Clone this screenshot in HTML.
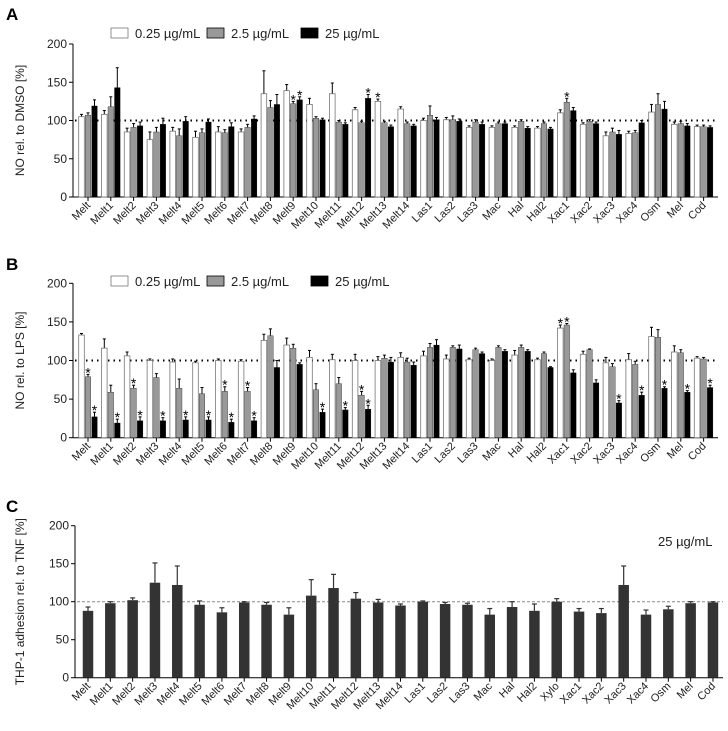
<!DOCTYPE html>
<html><head><meta charset="utf-8"><style>
body{margin:0;background:#fff}
svg{display:block;font-family:"Liberation Sans",Arial,sans-serif}
</style></head><body>
<svg id="c" width="728" height="731" viewBox="0 0 728 731" xmlns="http://www.w3.org/2000/svg"></svg>
<script>
const catsAB=["Melt","Melt1","Melt2","Melt3","Melt4","Melt5","Melt6","Melt7","Melt8","Melt9","Melt10","Melt11","Melt12","Melt13","Melt14","Las1","Las2","Las3","Mac","Hal","Hal2","Xac1","Xac2","Xac3","Xac4","Osm","Mel","Cod"];
const catsC=["Melt","Melt1","Melt2","Melt3","Melt4","Melt5","Melt6","Melt7","Melt8","Melt9","Melt10","Melt11","Melt12","Melt13","Melt14","Las1","Las2","Las3","Mac","Hal","Hal2","Xylo","Xac1","Xac2","Xac3","Xac4","Osm","Mel","Cod"];
const yTicks=[0,50,100,150,200];
const legendLabels=["0.25 µg/mL","2.5 µg/mL","25 µg/mL"];
// Panel A
const aLow=[105,108,85,75,86,78,85,85,135,139,121,135,114,125,115,100,101,91,91,91,90,110,95,80,83,111,95,92];
const aMid=[107,118,91,85,80,84,84,91,117,122,103,98,97,97,96,107,101,98,96,99,96,124,99,85,84,121,96,92];
const aHigh=[119,143,93,95,99,98,92,102,121,127,101,95,129,92,93,101,99,95,96,90,89,113,96,82,97,115,93,91];
const aLowErr=[3,5,5,10,5,8,7,4,30,8,8,14,3,3,3,3,3,2,2,2,2,4,2,5,3,10,3,2];
const aMidErr=[3,13,5,6,9,5,4,4,9,3,2,2,2,2,2,12,5,3,2,2,2,5,2,5,3,14,3,2];
const aHighErr=[8,26,5,8,6,4,5,4,13,4,2,2,5,2,2,3,3,3,2,2,2,4,2,5,3,10,3,2];
const aLowSig=[0,0,0,0,0,0,0,0,0,0,0,0,0,1,0,0,0,0,0,0,0,0,0,0,0,0,0,0];
const aMidSig=[0,0,0,0,0,0,0,0,0,1,0,0,0,0,0,0,0,0,0,0,0,1,0,0,0,0,0,0];
const aHighSig=[0,0,0,0,0,0,0,0,0,1,0,0,1,0,0,0,0,0,0,0,0,0,0,0,0,0,0,0];
// Panel B
const bLow=[133,116,106,100,98,97,100,99,126,120,104,101,100,100,104,106,102,101,100,107,101,142,108,97,101,131,111,103];
const bMid=[79,59,64,78,64,57,60,60,132,116,62,70,55,103,98,117,117,114,117,117,109,146,114,92,95,130,110,102];
const bHigh=[27,19,22,22,23,23,20,22,91,95,33,36,37,98,94,120,115,109,112,112,91,84,71,45,55,64,59,65];
const bLowErr=[2,12,5,2,4,2,2,2,8,9,9,7,8,5,6,6,5,2,2,6,2,4,4,7,8,12,8,2];
const bMidErr=[3,9,4,5,12,8,6,5,9,5,8,8,5,4,5,5,2,2,2,3,2,2,1,4,4,10,4,2];
const bHighErr=[6,5,5,4,4,4,4,4,9,2,4,3,5,6,4,7,5,2,2,2,1,4,4,3,4,2,2,3];
const bLowSig=[0,0,0,0,0,0,0,0,0,0,0,0,0,0,0,0,0,0,0,0,0,1,0,0,0,0,0,0];
const bMidSig=[1,0,1,0,0,0,1,1,0,0,0,0,1,0,0,0,0,0,0,0,0,1,0,0,0,0,0,0];
const bHighSig=[1,1,1,1,1,1,1,1,0,0,1,1,1,0,0,0,0,0,0,0,0,0,0,1,1,1,1,1];
// Panel C
const cVals=[88,98,102,125,122,96,86,99,96,83,108,118,104,99,95,100,97,96,83,93,88,100,87,85,122,83,90,98,99];
const cErr=[5,2,3,26,25,5,6,1,3,9,21,18,8,4,2,1,2,2,8,7,9,4,4,6,25,6,4,2,1];

const svg=document.getElementById('c');
const NS="http://www.w3.org/2000/svg";
function mk(tag,attrs,parent){const e=document.createElementNS(NS,tag);for(const k in attrs)e.setAttribute(k,attrs[k]);(parent||svg).appendChild(e);return e;}

function drawAxes(g,P,cats,title){
  const yS=v=>P.y0-(v/200)*(P.y0-P.y200);
  const xS=i=>P.x0+i*P.step;
  const yAxis=mk('g',{},g);
  
  
  mk('line',{x1:P.ax,y1:P.y200,x2:P.ax,y2:P.y0,stroke:'#000','stroke-width':1},yAxis);
  yTicks.forEach(t=>{
    mk('line',{x1:P.ax-4,y1:yS(t),x2:P.ax,y2:yS(t),stroke:'#000'},yAxis);
    const tx=mk('text',{x:P.ax-6,y:yS(t)+4,'text-anchor':'end','font-size':12,fill:'#222'},yAxis);
    tx.textContent=t;
    
    
  });
  const xAxis=mk('g',{},g);
  
  
  mk('line',{x1:P.ax,y1:P.y0,x2:P.xend,y2:P.y0,stroke:'#000'},xAxis);
  cats.forEach((c,i)=>{
    mk('line',{x1:xS(i),y1:P.y0,x2:xS(i),y2:P.y0+4,stroke:'#000'},xAxis);
    const tx=mk('text',{x:xS(i)+3,y:P.y0+9,'text-anchor':'end','font-size':11,fill:'#222',transform:`rotate(-45 ${xS(i)+3} ${P.y0+9})`},xAxis);
    tx.textContent=c;
    
    
  });
  const yc=(P.y0+P.y200)/2;
  const yt=mk('text',{x:P.tx,y:yc,'text-anchor':'middle','font-size':12,fill:'#222',transform:`rotate(-90 ${P.tx} ${yc})`},g);
  yt.textContent=title;
  
  
  return {xS,yS};
}

function refLine(g,P,yS,dash,color){
  const l=mk('line',{x1:P.ax+2,y1:yS(100),x2:P.xend,y2:yS(100),stroke:color,'stroke-width':dash?1:2,'stroke-dasharray':dash||'1.5 4'},g);
  
  
}

function groupedPanel(P,series,errs,sigs,title,name){
  const g=mk('g',{});
  
  
  const {xS,yS}=drawAxes(g,P,catsAB,title);
  refLine(g,P,yS,null,'#000');
  const fills=['#fff','#999','#000'];
  const bw=5.6, gap=0.9;
  series.forEach((vals,s)=>{
    vals.forEach((v,i)=>{
      const x=xS(i)+(s-1)*(bw+gap)-bw/2;
      const top=yS(v), et=yS(v+errs[s][i]);
      mk('line',{x1:x+bw/2,y1:top,x2:x+bw/2,y2:et,stroke:'#000','stroke-width':1},g);
      mk('line',{x1:x+bw/2-1.5,y1:et,x2:x+bw/2+1.5,y2:et,stroke:'#000','stroke-width':1},g);
      const r=mk('rect',{x:x,y:top,width:bw,height:P.y0-top,fill:fills[s],stroke:s==0?'#777':'#000','stroke-width':s==0?0.8:0.3},g);
      
      
      if(sigs[s][i]){
        const t=mk('text',{x:x+bw/2,y:et+3,'text-anchor':'middle','font-size':14,fill:'#000'},g);
        t.textContent='*';
        
        
      }
    });
  });
  const lg=mk('g',{},g);
  
  
  P.leg.forEach((lx,s)=>{
    const e=mk('g',{},lg);
    
    
    mk('rect',{x:lx,y:P.ly-6,width:17,height:10,fill:fills[s],stroke:s==0?'#777':'#000','stroke-width':0.8},e);
    const t=mk('text',{x:lx+24,y:P.ly+4,'font-size':13,fill:'#222'},e);
    t.textContent=legendLabels[s];
  });
}

groupedPanel({ax:73,x0:88,step:22.8,xend:718,y0:197,y200:44,tx:24,leg:[111,207,301],ly:34},
  [aLow,aMid,aHigh],[aLowErr,aMidErr,aHighErr],[aLowSig,aMidSig,aHighSig],'NO rel. to DMSO [%]','panel-a');
groupedPanel({ax:73,x0:88,step:22.8,xend:718,y0:437.7,y200:283.3,tx:24,leg:[111,207,311],ly:282},
  [bLow,bMid,bHigh],[bLowErr,bMidErr,bHighErr],[bLowSig,bMidSig,bHighSig],'NO rel. to LPS [%]','panel-b');

(function(){
  const P={ax:75,x0:88,step:22.32,xend:723,y0:677.7,y200:525.7,tx:24};
  const g=mk('g',{});
  
  
  const {xS,yS}=drawAxes(g,P,catsC,'THP-1 adhesion rel. to TNF [%]');
  refLine(g,P,yS,'3 2','#888');
  const bw=10.5;
  cVals.forEach((v,i)=>{
    const x=xS(i)-bw/2, top=yS(v), et=yS(v+cErr[i]);
    mk('line',{x1:xS(i),y1:top,x2:xS(i),y2:et,stroke:'#333','stroke-width':1.2},g);
    mk('line',{x1:xS(i)-2.5,y1:et,x2:xS(i)+2.5,y2:et,stroke:'#333','stroke-width':1.2},g);
    const r=mk('rect',{x:x,y:top,width:bw,height:P.y0-top,fill:'#333'},g);
    
    
  });
  const t=mk('text',{x:658,y:546,'font-size':13,fill:'#222'},g);
  t.textContent='25 µg/mL';
  
  
})();

[['A',6,20],['B',6,270],['C',6,512]].forEach(([l,x,y])=>{
  const t=mk('text',{x:x,y:y,'font-size':17,'font-weight':'bold',fill:'#000'});
  t.textContent=l;
  
  
});
</script>
</body></html>
